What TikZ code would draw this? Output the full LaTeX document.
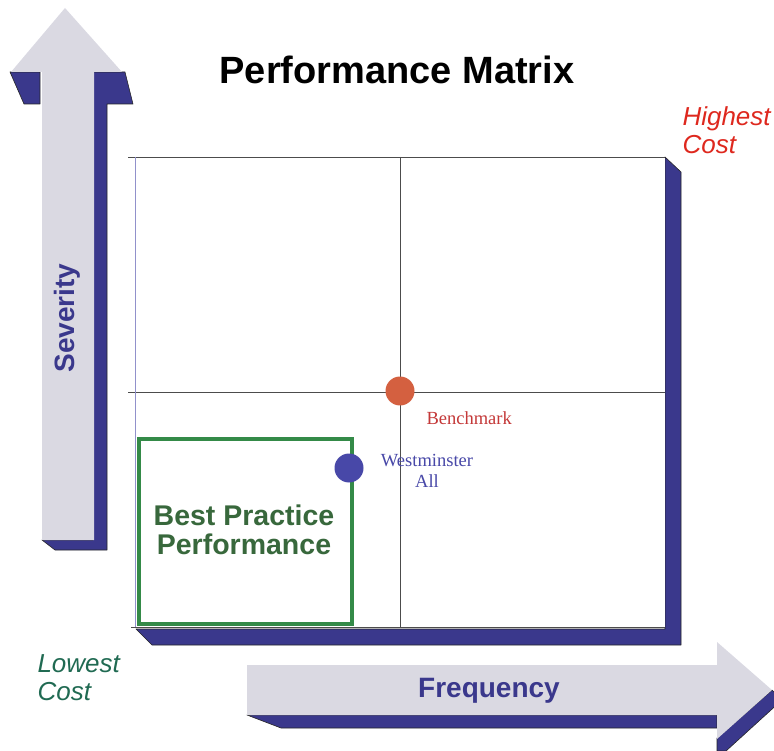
\documentclass[tikz,border=0pt]{standalone}
\usepackage{fontspec}
\setmainfont{Liberation Serif}
\setsansfont{Liberation Sans}
\definecolor{axisblue}{RGB}{58,56,140}
\definecolor{arrowgray}{RGB}{218,217,226}
\definecolor{bestgreen}{RGB}{52,138,72}
\definecolor{textgreen}{RGB}{56,104,60}
\definecolor{lowgreen}{RGB}{32,106,82}
\definecolor{highred}{RGB}{222,40,30}
\definecolor{benchred}{RGB}{212,96,64}
\definecolor{benchtext}{RGB}{196,56,56}
\definecolor{westblue}{RGB}{72,72,168}
\tikzset{
  bevel/.style={fill=axisblue, draw=black!85, line width=0.6pt, line join=round},
  arrowbody/.style={fill=arrowgray, draw=none},
  gridline/.style={draw=black!70, line width=0.7pt},
  bestbox/.style={draw=bestgreen, line width=4pt},
  dot/.style={circle, inner sep=0pt, minimum size=29pt},
  axislabel/.style={font=\sffamily\bfseries\fontsize{28}{30}\selectfont, text=axisblue},
  costlabel/.style={font=\sffamily\itshape\fontsize{26}{28}\selectfont, align=left},
  pointlabel/.style={font=\fontsize{18.5}{21}\selectfont, align=center},
}
\begin{document}
\begin{tikzpicture}[x=1pt,y=-1pt]
\useasboundingbox (0,0) rectangle (774,751);
% corners of the matrix
\coordinate (tl) at (135,157);
\coordinate (tr) at (665,157);
\coordinate (bl) at (135,627);
\coordinate (br) at (665,627);
\coordinate (tm) at (400,157);
\coordinate (bm) at (400,627);
\coordinate (lm) at (135,392);
\coordinate (rm) at (665,392);
% raised edge under the matrix
\draw[bevel] (665,157) -- (681,172) -- (681,645) -- (152,645) -- (136,629) -- (665,629) -- cycle;
\fill[white] (tl) rectangle (br);
% severity arrow
\draw[bevel] (10,72) -- (40,72) -- (40,104) -- (24,104) -- cycle;
\draw[bevel] (93,72) -- (125,72) -- (133,104) -- (107,104) -- (107,550) -- (55,550) -- (42,540) -- (93,540) -- cycle;
\fill[arrowbody] (65,8) -- (122,72) -- (94,72) -- (94,540) -- (42,540) -- (42,72) -- (11,72) -- cycle;
% frequency arrow
\draw[bevel] (247,715) -- (717,715) -- (717,728) -- (281,728) -- cycle;
\draw[bevel] (717,738) -- (772,690) -- (782,700) -- (726,751) -- (717,751) -- cycle;
\fill[arrowbody] (247,665) -- (717,665) -- (717,642) -- (772,690) -- (717,739) -- (717,715) -- (247,715) -- cycle;
% quadrant lines
\draw[gridline] (tl) -- (tr);
\draw[gridline] (bl) -- (br);
\draw[gridline] (tm) -- (bm);
\draw[gridline] (lm) -- (rm);
\draw[draw=westblue!60, line width=0.6pt] (tl) -- (bl);
\draw[gridline] (tl) -- ++(-7,0);
\draw[gridline] (lm) -- ++(-7,0);
\draw[gridline] (bl) -- ++(-4,0);
% best practice region
\draw[bestbox] (139,439) rectangle (352,624);
\node[font=\sffamily\bfseries\fontsize{28.5}{29}\selectfont, text=textgreen, align=center] (best) at (244,530) {Best Practice\\Performance};
% plotted points
\node[dot, fill=benchred] (benchdot) at (400,391) {};
\node[pointlabel, text=benchtext, anchor=west] (bench) at (423,418) {Benchmark};
\node[dot, fill=westblue] (westdot) at (349,468) {};
\node[pointlabel, text=westblue] (west) at (427,471) {Westminster\\All};
% titles and axis names
\node[font=\sffamily\bfseries\fontsize{38}{40}\selectfont] (title) at (397,70) {Performance Matrix};
\node[axislabel, rotate=90] (severity) at (67,318) {Severity};
\node[axislabel] (frequency) at (489,691) {Frequency};
\node[costlabel, text=highred, anchor=west] (highest) at (679,130) {Highest\\Cost};
\node[costlabel, text=lowgreen, anchor=west] (lowest) at (34,678) {Lowest\\Cost};
\end{tikzpicture}
\end{document}
